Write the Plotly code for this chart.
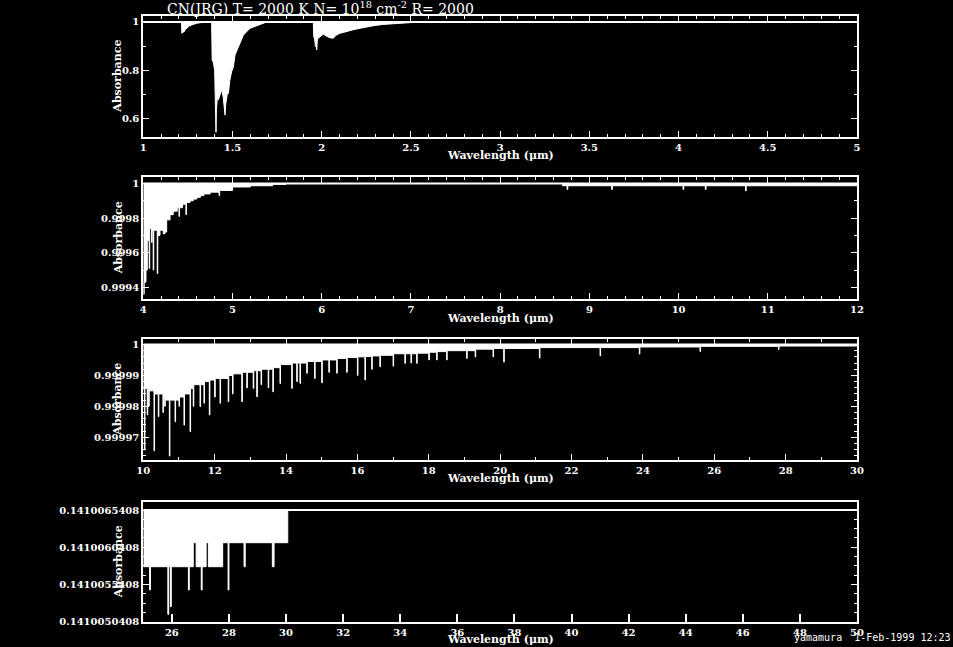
import plotly.graph_objects as go

# ---------------- data ----------------
title_text = "CN(JRG) T= 2000 K N= 10<sup>18</sup> cm<sup>-2</sup> R= 2000"
x_title = "Wavelength (μm)"
y_title = "Absorbance"
footer_text = "yamamura  1-Feb-1999 12:23"

# panel 1 : 1 - 5 micron
wl1 = [1.00, 1.214, 1.216, 1.222, 1.228, 1.235, 1.245, 1.26, 1.28, 1.30, 1.33, 1.383,
       1.386, 1.392, 1.400, 1.405, 1.4075, 1.410, 1.415, 1.420, 1.430, 1.439, 1.448,
       1.456, 1.458, 1.462, 1.470, 1.477, 1.485, 1.495, 1.505, 1.514, 1.530, 1.542,
       1.561, 1.598, 1.650, 1.692, 1.953, 1.955, 1.960, 1.965, 1.968, 1.972, 1.976,
       1.990, 2.009, 2.030, 2.046, 2.065, 2.080, 2.100, 2.140, 2.177, 2.215, 2.252,
       2.300, 2.345, 2.440, 2.550, 3.22, 3.225, 3.23, 3.40, 3.405, 3.41, 5.00]
ab1 = [1.0, 1.0, 0.953, 0.960, 0.958, 0.968, 0.975, 0.985, 0.990, 0.995, 0.998, 1.0,
       0.840, 0.836, 0.800, 0.620, 0.545, 0.640, 0.690, 0.678, 0.700, 0.720, 0.690,
       0.620, 0.616, 0.660, 0.700, 0.706, 0.760, 0.795, 0.815, 0.864, 0.890, 0.912,
       0.946, 0.974, 0.988, 1.0, 1.0, 0.940, 0.930, 0.898, 0.940, 0.885, 0.930,
       0.940, 0.950, 0.940, 0.935, 0.933, 0.945, 0.953, 0.962, 0.968, 0.974, 0.980,
       0.986, 0.990, 0.996, 1.0, 1.0, 0.996, 1.0, 1.0, 0.996, 1.0, 1.0]

# panel 2 : 4 - 12 micron (step drawing)
wl2 = [4.000, 4.010, 4.030, 4.045, 4.066, 4.072, 4.093, 4.099, 4.111, 4.117, 4.156,
       4.162, 4.187, 4.224, 4.243, 4.262, 4.300, 4.336, 4.380, 4.400, 4.406, 4.440,
       4.478, 4.484, 4.524, 4.560, 4.600, 4.640, 4.680, 4.750, 4.850, 4.856, 5.000,
       5.200, 5.450, 5.600, 8.700, 8.750, 8.758, 9.250, 9.258, 10.050, 10.058,
       10.300, 10.308, 10.750, 10.758, 12.000]
ab2 = [0.99936, 0.99943, 0.99950, 0.99967, 0.99951, 0.99974, 0.99966, 0.99973,
       0.99950, 0.99973, 0.99948, 0.99970, 0.99973, 0.99971, 0.99972, 0.99979,
       0.99982, 0.99984, 0.99986, 0.99981, 0.99986, 0.99988, 0.99982, 0.99989,
       0.99990, 0.99991, 0.99992, 0.99993, 0.99994, 0.99995, 0.99993, 0.99996,
       0.99998, 0.999987, 0.999995, 1.0, 0.999987, 0.999966, 0.999987, 0.999966,
       0.999987, 0.999966, 0.999987, 0.999966, 0.999987, 0.999958, 0.999987, 0.999987]

# panel 3 : 10 - 30 micron (step drawing)
wl3 = [10.00, 10.03, 10.045, 10.11, 10.125, 10.15, 10.165, 10.30, 10.315, 10.42,
       10.435, 10.55, 10.565, 10.60, 10.615, 10.73, 10.745, 10.89, 10.905, 11.00,
       11.015, 11.14, 11.155, 11.31, 11.325, 11.40, 11.415, 11.59, 11.605, 11.70,
       11.715, 11.85, 11.865, 12.00, 12.015, 12.15, 12.165, 12.38, 12.395, 12.50,
       12.515, 12.76, 12.775, 12.90, 12.915, 13.08, 13.095, 13.18, 13.195, 13.30,
       13.315, 13.50, 13.515, 13.63, 13.645, 13.83, 13.845, 14.16, 14.175, 14.30,
       14.315, 14.39, 14.405, 14.58, 14.595, 14.80, 14.815, 15.00, 15.015, 15.20,
       15.215, 15.42, 15.435, 15.70, 15.715, 16.00, 16.015, 16.21, 16.225, 16.40,
       16.415, 16.63, 16.645, 17.00, 17.015, 17.33, 17.345, 17.50, 17.515, 17.66,
       17.675, 18.00, 18.015, 18.22, 18.235, 18.50, 18.515, 19.06, 19.075, 19.30,
       19.315, 19.80, 19.815, 20.10, 20.115, 21.10, 21.115, 22.80, 22.815, 23.90,
       23.915, 25.60, 25.615, 27.80, 27.815, 30.00]
ab3 = [0.9999855, 0.9999659, 0.9999858, 0.9999772, 0.999986, 0.99998, 0.999985,
       0.9999656, 0.999984, 0.9999767, 0.999984, 0.999978, 0.999983, 0.99998,
       0.999982, 0.9999639, 0.999982, 0.999975, 0.999982, 0.99998, 0.999983,
       0.9999739, 0.999984, 0.9999718, 0.9999858, 0.99998, 0.999987, 0.9999799,
       0.999987, 0.999981, 0.999988, 0.9999772, 0.9999885, 0.999983, 0.999989,
       0.999981, 0.999989, 0.9999815, 0.99999, 0.999984, 0.9999905, 0.9999815,
       0.999991, 0.999986, 0.999991, 0.9999858, 0.9999915, 0.9999831, 0.9999915,
       0.999987, 0.999992, 0.999986, 0.999992, 0.9999847, 0.9999925, 0.9999874,
       0.9999935, 0.9999858, 0.999994, 0.999988, 0.999994, 0.9999874, 0.999994,
       0.9999907, 0.9999945, 0.999989, 0.9999945, 0.9999876, 0.999995, 0.999991,
       0.999995, 0.9999907, 0.9999955, 0.999991, 0.9999958, 0.99999, 0.999996,
       0.9999885, 0.9999961, 0.999992, 0.9999963, 0.9999928, 0.9999965, 0.999993,
       0.999997, 0.9999939, 0.999997, 0.999994, 0.999997, 0.9999939, 0.9999972,
       0.999995, 0.9999975, 0.999995, 0.9999977, 0.999995, 0.999998, 0.9999955,
       0.999998, 0.999996, 0.9999985, 0.999996, 0.9999987, 0.9999943, 0.9999987,
       0.9999956, 0.999999, 0.9999963, 0.999999, 0.9999969, 0.9999992, 0.9999977,
       0.9999994, 0.9999984, 0.9999995, 0.9999996]

# panel 4 : 25 - 50 micron (quantised levels)
L0 = 0.1410065408
L1 = 0.1410065287
L2 = 0.1410061017
L3 = 0.1410057794
L4 = 0.1410054665
L5 = 0.1410052422
L6 = 0.1410051398
wl4 = [25.00, 25.22, 25.25, 25.86, 25.89, 25.95, 25.98, 26.58, 26.61, 26.75, 26.85,
       27.03, 27.06, 27.20, 27.28, 27.78, 27.97, 28.00, 28.53, 28.57, 29.52, 29.58,
       30.06]
ab4 = [L3, L4, L3, L6, L3, L5, L3, L4, L3, L2, L3,
       L4, L3, L2, L3, L2, L4, L2, L3, L2, L3, L2,
       L0]

x_ranges = [[1, 5], [4, 12], [10, 30], [25, 50]]
y_ranges = [[0.5245, 1.0247], [0.999331, 1.0000358],
            [0.99996253, 1.00000168], [0.1410050326, 0.1410066442]]
continuum = [1.0, 1.0, 1.0, L0]
line_shapes = ["linear", "hv", "hv", "hv"]

p4_tickvals = [0.1410065408, 0.1410060408, 0.1410055408, 0.1410050408]
p4_ticktext = ["0.1410065408", "0.1410060408", "0.1410055408", "0.1410050408"]

# ---------------- figure ----------------
W, H = 953, 647
fig = go.Figure()

spectra = [(wl1, ab1), (wl2, ab2), (wl3, ab3), (wl4, ab4)]
for i, (wl, ab) in enumerate(spectra):
    xa = "x" if i == 0 else f"x{i+1}"
    ya = "y" if i == 0 else f"y{i+1}"
    top = continuum[i]
    fig.add_trace(go.Scatter(
        x=list(wl) + [wl[-1], wl[0]], y=list(ab) + [top, top],
        mode="lines", fill="toself", fillcolor="white",
        line=dict(color="white", width=1, shape=line_shapes[i]),
        xaxis=xa, yaxis=ya, showlegend=False, hoverinfo="skip"))
    fig.add_trace(go.Scatter(
        x=x_ranges[i], y=[top, top], mode="lines",
        line=dict(color="white", width=2),
        xaxis=xa, yaxis=ya, showlegend=False, hoverinfo="skip"))

px_top = [16, 177.3, 339.3, 502.3]
px_bot = [137.3, 299.3, 460.3, 622.3]
xdom = [143.3 / W, 857 / W]

tickfont = dict(family="DejaVu Serif", size=10, color="white", weight="bold")
x_dtick = [0.5, 1, 2, 2]
x_minor = [0.1, 0.2, 1, None]
y_dtick = [0.2, 0.0002, 0.00001, None]
y_tick0 = [0.6, 1, 1, None]
y_minor = [0.1, 0.0001, 0.000002, None]

p4_step = (p4_tickvals[0] - p4_tickvals[1]) / 4
p4_minor = [v - k * p4_step for v in p4_tickvals[:-1] for k in (1, 2, 3)]

layout = dict(width=W, height=H, paper_bgcolor="black", plot_bgcolor="black",
              margin=dict(l=0, r=0, t=0, b=0, autoexpand=False), showlegend=False,
              template="none")

for i in range(4):
    sx = "" if i == 0 else str(i + 1)
    dom = [1 - px_bot[i] / H, 1 - px_top[i] / H]
    xa = dict(domain=xdom, range=x_ranges[i], anchor="y" + sx, automargin=False,
              showgrid=False, zeroline=False, showline=True, linecolor="white",
              linewidth=2, ticks="inside", tickcolor="white",
              tickfont=tickfont, tick0=0, dtick=x_dtick[i])
    if i < 3:
        xa.update(mirror="allticks", ticklen=6, tickwidth=1,
                  minor=dict(dtick=x_minor[i], ticks="inside", ticklen=3,
                             tickcolor="white", tickwidth=1))
    else:
        xa.update(mirror=True, ticklen=8, tickwidth=2)
    ya = dict(domain=dom, range=y_ranges[i], anchor="x" + sx, automargin=False,
              showgrid=False, zeroline=False, showline=True, linecolor="white",
              linewidth=2, ticks="inside", tickcolor="white", ticklen=6,
              tickwidth=1, mirror="allticks", tickfont=tickfont)
    if i < 3:
        ya.update(tick0=y_tick0[i], dtick=y_dtick[i],
                  minor=dict(dtick=y_minor[i], ticks="inside", ticklen=3,
                             tickcolor="white", tickwidth=1))
    else:
        ya.update(tickmode="array", tickvals=p4_tickvals, ticktext=p4_ticktext,
                  minor=dict(tickmode="array", tickvals=p4_minor, ticks="inside",
                             ticklen=3, tickcolor="white", tickwidth=1))
    layout["xaxis" + sx] = xa
    layout["yaxis" + sx] = ya

fig.update_layout(**layout)

ann_font = dict(family="DejaVu Serif", size=11, color="white", weight="bold")
xt_px = [155, 318, 479, 639]
for i in range(4):
    fig.add_annotation(x=500 / W, y=1 - xt_px[i] / H, xref="paper", yref="paper",
                       text=x_title, showarrow=False,
                       font=ann_font, xanchor="center", yanchor="middle")
    yc = (px_top[i] + px_bot[i]) / 2
    fig.add_annotation(x=118 / W, y=1 - yc / H, xref="paper", yref="paper",
                       text=y_title, showarrow=False, textangle=-90,
                       font=ann_font, xanchor="center", yanchor="middle")

fig.add_annotation(x=165 / W, y=1 - 8 / H, xref="paper", yref="paper",
                   text=title_text, showarrow=False,
                   font=dict(family="DejaVu Serif", size=14, color="white"),
                   xanchor="left", yanchor="middle")
fig.add_annotation(x=1, y=1 - 637 / H, xref="paper", yref="paper",
                   text=footer_text, showarrow=False,
                   font=dict(family="DejaVu Sans Mono", size=10, color="white"),
                   xanchor="right", yanchor="middle")

fig.write_html("out.html", config={"displayModeBar": False},
               post_script="document.body.style.margin='0';"
                           "document.body.style.background='black';")
